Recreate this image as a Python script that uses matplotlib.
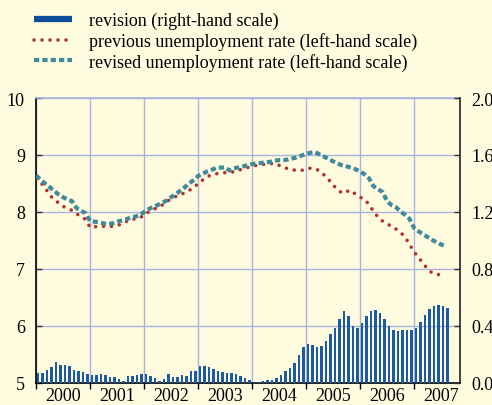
import matplotlib
matplotlib.use("Agg")
import matplotlib.pyplot as plt
from matplotlib.lines import Line2D
import numpy as np

# ---------------- data (monthly, Jan 2000 - Aug 2007) ----------------
start_year = 2000
years = [2000, 2001, 2002, 2003, 2004, 2005, 2006, 2007]

previous_rate = [
    8.58, 8.52, 8.43, 8.30, 8.22, 8.16, 8.10, 8.06, 8.03, 7.97, 7.92, 7.87,
    7.73, 7.74, 7.75, 7.75, 7.74, 7.75, 7.76, 7.79, 7.83, 7.87, 7.88, 7.89,
    7.95, 8.00, 8.04, 8.08, 8.12, 8.18, 8.23, 8.27, 8.31, 8.33, 8.38, 8.42,
    8.50, 8.56, 8.62, 8.65, 8.67, 8.68, 8.69, 8.69, 8.71, 8.73, 8.76, 8.78,
    8.80, 8.82, 8.83, 8.84, 8.85, 8.85, 8.82, 8.78, 8.76, 8.74, 8.73, 8.73,
    8.75, 8.77, 8.76, 8.72, 8.65, 8.57, 8.47, 8.40, 8.33, 8.36, 8.38, 8.31,
    8.26, 8.22, 8.13, 8.01, 7.91, 7.84, 7.79, 7.75, 7.70, 7.64, 7.56, 7.43,
    7.30, 7.20, 7.10, 7.00, 6.93, 6.91, 6.89, 6.88,
]

revised_rate = [
    8.64, 8.57, 8.50, 8.44, 8.37, 8.31, 8.26, 8.22, 8.19, 8.07, 8.02, 7.98,
    7.84, 7.83, 7.82, 7.80, 7.79, 7.80, 7.83, 7.85, 7.87, 7.90, 7.92, 7.94,
    8.00, 8.05, 8.09, 8.12, 8.16, 8.20, 8.26, 8.31, 8.37, 8.43, 8.50, 8.56,
    8.63, 8.67, 8.71, 8.74, 8.77, 8.78, 8.78, 8.73, 8.77, 8.78, 8.80, 8.82,
    8.84, 8.85, 8.86, 8.87, 8.88, 8.90, 8.91, 8.91, 8.92, 8.94, 8.96, 8.99,
    9.02, 9.04, 9.05, 9.01, 8.97, 8.93, 8.89, 8.85, 8.82, 8.80, 8.78, 8.75,
    8.71, 8.66, 8.59, 8.45, 8.40, 8.35, 8.19, 8.12, 8.08, 8.01, 7.95, 7.88,
    7.72, 7.66, 7.61, 7.56, 7.51, 7.47, 7.43, 7.40,
]

revision = [
    0.073, 0.072, 0.092, 0.110, 0.145, 0.125, 0.129, 0.117, 0.094, 0.081, 0.076, 0.063,
    0.056, 0.056, 0.061, 0.054, 0.044, 0.044, 0.028, 0.014, 0.051, 0.051, 0.058, 0.063,
    0.063, 0.047, 0.033, 0.014, 0.028, 0.065, 0.044, 0.044, 0.054, 0.051, 0.084, 0.084,
    0.117, 0.120, 0.110, 0.099, 0.086, 0.074, 0.071, 0.069, 0.065, 0.052, 0.034, 0.018,
    0.005, 0.009, 0.014, 0.019, 0.021, 0.033, 0.056, 0.084, 0.108, 0.140, 0.196, 0.256,
    0.271, 0.264, 0.255, 0.260, 0.297, 0.344, 0.386, 0.449, 0.503, 0.468, 0.402, 0.384,
    0.423, 0.470, 0.503, 0.510, 0.491, 0.449, 0.400, 0.370, 0.365, 0.370, 0.370, 0.370,
    0.386, 0.430, 0.477, 0.519, 0.543, 0.547, 0.538, 0.529,
]

left_ticks = [5, 6, 7, 8, 9, 10]
right_ticks = [0.0, 0.4, 0.8, 1.2, 1.6, 2.0]
right_labels = ["0.0", "0.4", "0.8", "1.2", "1.6", "2.0"]

labels = ["revision (right-hand scale)",
          "previous unemployment rate (left-hand scale)",
          "revised unemployment rate (left-hand scale)"]

# ---------------- style ----------------
BG = "#fffbdf"
GRID = "#aab3dc"
RED = "#b3302c"
TEAL = "#3f8a9d"
BLUE = "#1c5aa6"
LEGBLUE = "#0b4c9b"

plt.rcParams["font.family"] = ["Liberation Serif", "DejaVu Serif"]

fig = plt.figure(figsize=(4.92, 4.06), dpi=100, facecolor=BG)
ax = fig.add_axes([36 / 492, 1 - 384 / 406, 424 / 492, 285 / 406])
ax.set_facecolor(BG)

n = len(previous_rate)
x = start_year + np.arange(n) / 12.0

ax.plot(x, previous_rate, color=RED, lw=2.6, linestyle=(0, (0.01, 2.2)),
        dash_capstyle="round", zorder=3)
ax.plot(x, revised_rate, color=TEAL, lw=3.0, linestyle=(0, (1.25, 0.75)),
        dash_capstyle="butt", zorder=4)

ax.set_xlim(2000, 2007.85)
ax.set_ylim(5, 10)
ax.set_yticks(left_ticks)
ax.set_yticklabels([str(t) for t in left_ticks])

ax.set_xticks(years)
ax.set_xticklabels([])
ax.set_xticks([y + 0.5 for y in years], minor=True)
ax.set_xticklabels([str(y) for y in years], minor=True)
ax.tick_params(axis="x", which="major", direction="out", length=4, width=1, color="black")
ax.tick_params(axis="x", which="minor", length=0, pad=3, labelsize=13)
ax.tick_params(axis="y", direction="in", length=4, width=1, pad=8, labelsize=13,
               color="#333333")

ax.grid(True, which="major", color=GRID, lw=1.0, zorder=0)
ax.set_axisbelow(True)

for s in ["left", "bottom"]:
    ax.spines[s].set_color("black")
    ax.spines[s].set_linewidth(1.2)
ax.spines["top"].set_color(GRID)
ax.spines["top"].set_linewidth(1.2)
ax.spines["right"].set_visible(False)

ax2 = ax.twinx()
ax2.set_ylim(0, 2.0)
ax2.bar(x + 0.035, revision, width=0.042, color=BLUE, align="center", zorder=2)
ax2.set_yticks(right_ticks)
ax2.set_yticklabels(right_labels)
ax2.tick_params(axis="y", direction="in", length=4, width=1, pad=8, labelsize=13,
                color="#333333")
for s in ["left", "top", "bottom"]:
    ax2.spines[s].set_visible(False)
ax2.spines["right"].set_color("#222222")
ax2.spines["right"].set_linewidth(1.2)

handles = [
    Line2D([], [], color=LEGBLUE, lw=4.5, solid_capstyle="butt"),
    Line2D([], [], color=RED, lw=2.6, linestyle=(0, (0.01, 2.2)), dash_capstyle="round"),
    Line2D([], [], color=TEAL, lw=3.0, linestyle=(0, (1.25, 0.75))),
]
fig.legend(handles, labels, loc="upper left", bbox_to_anchor=(34 / 492, 1 - 13 / 406),
           frameon=False, fontsize=13, handlelength=2.1, handletextpad=0.95,
           labelspacing=0.15, borderaxespad=0, borderpad=0)

fig.savefig("out.png", dpi=100, facecolor=BG)
